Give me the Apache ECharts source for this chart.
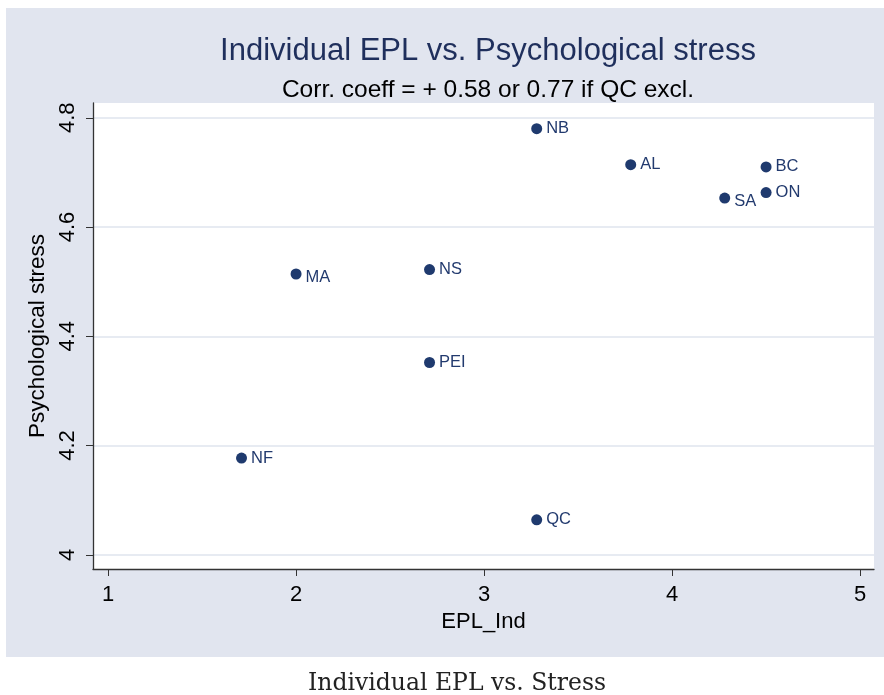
<!DOCTYPE html>
<html>
<head>
<meta charset="utf-8">
<script src="https://cdn.jsdelivr.net/npm/echarts@6/dist/echarts.min.js"></script>
<style>
  html, body { margin: 0; padding: 0; background: #fff; }
  #ech { width: 884px; height: 695px; }
</style>
</head>
<body>
<div id="ech"></div>
<script>
// provinces, EPL index and stress score
var provinces = ['NB', 'AL', 'BC', 'ON', 'SA', 'MA', 'NS', 'PEI', 'NF', 'QC'];
var eplInd = [3.28, 3.78, 4.50, 4.50, 4.28, 2.00, 2.71, 2.71, 1.71, 3.28];
var stress = [4.780, 4.714, 4.710, 4.663, 4.653, 4.514, 4.522, 4.352, 4.177, 4.064];
var xTicks = [1, 2, 3, 4, 5];
var yTicks = [4, 4.2, 4.4, 4.6, 4.8];

// labels that sit a bit lower than the dot
var labelNudge = { MA: [0, 3], SA: [0, 3] };

var navy = '#1f3a6e';
var font = 'Liberation Sans, Arial, sans-serif';

var points = [];
for (var i = 0; i < provinces.length; i++) {
    var p = { name: provinces[i], value: [eplInd[i], stress[i]] };
    if (labelNudge[provinces[i]]) {
        p.label = { offset: labelNudge[provinces[i]] };
    }
    points.push(p);
}

var myChart = echarts.init(document.getElementById('ech'));
var option = {
    backgroundColor: '#ffffff',
    animation: false,
    graphic: [{
        type: 'rect',
        z: -10,
        shape: { x: 6, y: 8, width: 878, height: 649 },
        style: { fill: '#e1e5ef' }
    }],
    title: [
        {
            text: 'Individual EPL vs. Psychological stress',
            left: 483, top: 31, textAlign: 'center',
            textStyle: { fontFamily: font, fontSize: 31, fontWeight: 'normal', color: '#1f2f5c' }
        },
        {
            text: 'Corr. coeff = + 0.58 or 0.77 if QC excl.',
            left: 483, top: 73, textAlign: 'center',
            textStyle: { fontFamily: font, fontSize: 24.5, fontWeight: 'normal', color: '#000' }
        },
        {
            text: 'Individual EPL vs. Stress',
            left: 452, top: 667, textAlign: 'center',
            textStyle: { fontFamily: 'DejaVu Serif, serif', fontSize: 23.5, fontWeight: 'normal', color: '#222' }
        }
    ],
    grid: {
        left: 93, right: 10, top: 103, bottom: 126,
        show: true, backgroundColor: '#ffffff', borderWidth: 0
    },
    xAxis: {
        type: 'value',
        min: 0.92, max: 5.074,
        name: 'EPL_Ind',
        nameLocation: 'middle',
        nameGap: 39,
        nameTextStyle: { fontFamily: font, fontSize: 22, color: '#000' },
        axisLine: { show: true, lineStyle: { color: '#333', width: 1.3 } },
        axisTick: { show: true, length: 7, lineStyle: { color: '#333' }, customValues: xTicks },
        axisLabel: { fontFamily: font, fontSize: 22, color: '#000', margin: 15, customValues: xTicks },
        splitLine: { show: false }
    },
    yAxis: {
        type: 'value',
        min: 3.974, max: 4.827,
        name: 'Psychological stress',
        nameLocation: 'middle',
        nameGap: 40,
        nameTextStyle: { fontFamily: font, fontSize: 22.5, color: '#000' },
        axisLine: { show: true, lineStyle: { color: '#333', width: 1.3 } },
        axisTick: { show: true, length: 7, lineStyle: { color: '#333' }, customValues: yTicks },
        axisLabel: {
            fontFamily: font, fontSize: 22, color: '#000', margin: 14, rotate: 90,
            customValues: yTicks,
            formatter: function (v) { return String(Math.round(v * 10) / 10); }
        },
        splitLine: { show: true, lineStyle: { color: '#dfe4ee', width: 1.5 } }
    },
    series: [{
        type: 'scatter',
        symbolSize: 11,
        itemStyle: { color: navy, opacity: 1 },
        label: {
            show: true,
            position: 'right',
            distance: 4,
            formatter: '{b}',
            fontFamily: font,
            fontSize: 16.5,
            color: '#223a6e'
        },
        data: points
    }]
};
myChart.setOption(option);
</script>
</body>
</html>
